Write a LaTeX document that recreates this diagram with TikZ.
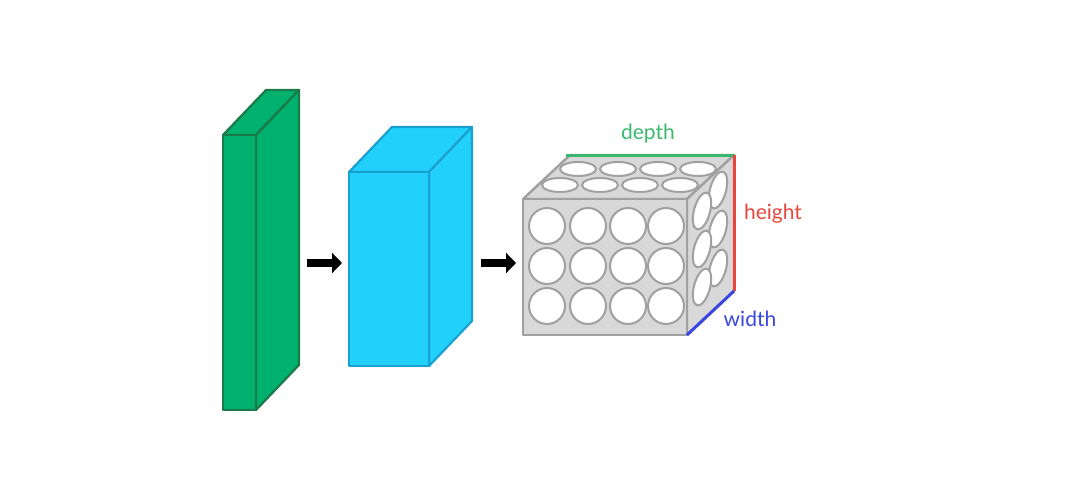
\documentclass[tikz,border=0pt]{standalone}
\usepackage{fontspec}
\setmainfont{Lato}
\usetikzlibrary{arrows.meta}
\definecolor{gfill}{HTML}{00B06F}
\definecolor{gdraw}{HTML}{1B7A48}
\definecolor{bfill}{HTML}{22D1FB}
\definecolor{bdraw}{HTML}{1AA0D0}
\definecolor{cfill}{HTML}{D8D8D8}
\definecolor{cdraw}{HTML}{A0A0A0}
\definecolor{lgreen}{HTML}{3CB86E}
\definecolor{lred}{HTML}{E8463C}
\definecolor{lblue}{HTML}{3A46E0}
\tikzset{
  gface/.style={fill=gfill,draw=gdraw,line width=2.2pt,line join=round},
  bface/.style={fill=bfill,draw=bdraw,line width=2.2pt,line join=round},
  cface/.style={fill=cfill,draw=cdraw,line width=2.4pt,line join=round},
  hole/.style={fill=white,draw=cdraw,line width=2pt},
  flow/.style={-{Triangle[length=10pt,width=20pt]},line width=8pt,black},
  lbl/.style={font=\fontsize{21}{24}\selectfont}
}
\begin{document}
\begin{tikzpicture}[x=1pt,y=-1pt]
\useasboundingbox (0,0) rectangle (1075,492);
% green slab
\draw[gface] (223,135) -- (266,90) -- (299,90) -- (256,135) -- cycle;
\draw[gface] (256,135) -- (299,90) -- (299,365) -- (256,410) -- cycle;
\draw[gface] (223,135) rectangle (256,410);
% blue box
\draw[bface] (349,172) -- (392,127) -- (472,127) -- (429,172) -- cycle;
\draw[bface] (429,172) -- (472,127) -- (472,321) -- (429,366) -- cycle;
\draw[bface] (349,172) rectangle (429,366);
% arrows
\coordinate (a1s) at (307,263); \coordinate (a1e) at (342,263);
\coordinate (a2s) at (481,263); \coordinate (a2e) at (516,263);
\draw[flow] (a1s) -- (a1e);
\draw[flow] (a2s) -- (a2e);
% cube
\draw[cface] (523,199) -- (570,155) -- (734,155) -- (687,199) -- cycle;
\draw[cface] (687,199) -- (734,155) -- (734,291) -- (687,335) -- cycle;
\draw[cface] (523,199) rectangle (687,335);
\foreach \x in {547,588,628,666}
  \foreach \y in {226,266,306}
    \draw[hole] (\x,\y) circle (18);
\foreach \x in {578,618,658,698} \draw[hole] (\x,169) ellipse (18 and 7);
\foreach \x in {560,600,640,680} \draw[hole] (\x,185) ellipse (18 and 7);
\foreach \y in {190,229,268} \draw[hole,rotate around={-15:(718,\y)}] (718,\y) ellipse (8 and 19);
\foreach \y in {211,249,287} \draw[hole,rotate around={-15:(702,\y)}] (702,\y) ellipse (8 and 19);
% dimension lines
\coordinate (tl) at (566,155); \coordinate (tr) at (734,155);
\coordinate (br) at (734,291); \coordinate (fb) at (687,335);
\draw[lgreen,line width=3pt] (tl) -- (tr);
\draw[lred,line width=3pt] (tr) -- (br);
\draw[lblue,line width=3pt] (fb) -- (br);
\node[lbl,text=lgreen] (depth) at (648,134) {depth};
\node[lbl,text=lred] (height) at (773,214) {height};
\node[lbl,text=lblue] (width) at (750,319) {width};
\end{tikzpicture}
\end{document}
